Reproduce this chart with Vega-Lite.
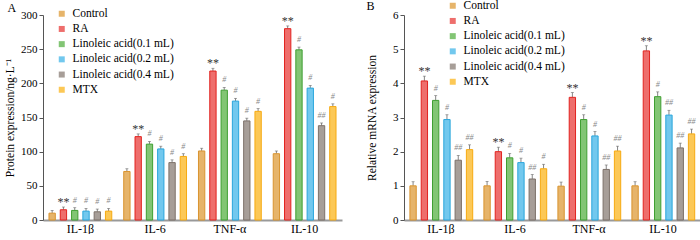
{
  "$schema": "https://vega.github.io/schema/vega-lite/v6.json",
  "padding": {"left": 4, "top": 0, "right": 2, "bottom": 0},
  "config": {
    "font": "Liberation Serif",
    "view": {"stroke": null},
    "axis": {"labelFont": "Liberation Serif", "titleFont": "Liberation Serif", "labelColor": "#000", "titleColor": "#000", "grid": false, "tickSize": 4, "domainColor": "#555", "tickColor": "#555", "labelFontSize": 11, "titleFontSize": 11.5, "titleFontWeight": "normal", "labelPadding": 2},
    "axisY": {"labelOverlap": false, "labelSeparation": 0},
    "title": {"font": "Liberation Serif"},
    "legend": {"labelFont": "Liberation Serif", "labelFontSize": 11.5, "labelColor": "#000"},
    "text": {"font": "Liberation Serif"}
  },
  "datasets": {
    "d": [
      {"panel": "A", "cat": "IL-1β", "grp": "Control", "v": 10, "hi": 14, "sig": ""},
      {"panel": "A", "cat": "IL-1β", "grp": "RA", "v": 15, "hi": 19, "sig": "**"},
      {"panel": "A", "cat": "IL-1β", "grp": "Linoleic acid(0.1 mL)", "v": 14, "hi": 18, "sig": "#"},
      {"panel": "A", "cat": "IL-1β", "grp": "Linoleic acid(0.2 mL)", "v": 13, "hi": 17, "sig": "#"},
      {"panel": "A", "cat": "IL-1β", "grp": "Linoleic acid(0.4 mL)", "v": 12, "hi": 16, "sig": "#"},
      {"panel": "A", "cat": "IL-1β", "grp": "MTX", "v": 13, "hi": 17, "sig": "#"},
      {"panel": "A", "cat": "IL-6", "grp": "Control", "v": 71, "hi": 75, "sig": ""},
      {"panel": "A", "cat": "IL-6", "grp": "RA", "v": 122, "hi": 126, "sig": "**"},
      {"panel": "A", "cat": "IL-6", "grp": "Linoleic acid(0.1 mL)", "v": 111, "hi": 115, "sig": "#"},
      {"panel": "A", "cat": "IL-6", "grp": "Linoleic acid(0.2 mL)", "v": 104, "hi": 108, "sig": "#"},
      {"panel": "A", "cat": "IL-6", "grp": "Linoleic acid(0.4 mL)", "v": 84, "hi": 88, "sig": "#"},
      {"panel": "A", "cat": "IL-6", "grp": "MTX", "v": 93, "hi": 97, "sig": "#"},
      {"panel": "A", "cat": "TNF-α", "grp": "Control", "v": 101, "hi": 105, "sig": ""},
      {"panel": "A", "cat": "TNF-α", "grp": "RA", "v": 218, "hi": 222, "sig": "**"},
      {"panel": "A", "cat": "TNF-α", "grp": "Linoleic acid(0.1 mL)", "v": 190, "hi": 194, "sig": "#"},
      {"panel": "A", "cat": "TNF-α", "grp": "Linoleic acid(0.2 mL)", "v": 174, "hi": 178, "sig": "#"},
      {"panel": "A", "cat": "TNF-α", "grp": "Linoleic acid(0.4 mL)", "v": 145, "hi": 149, "sig": "#"},
      {"panel": "A", "cat": "TNF-α", "grp": "MTX", "v": 159, "hi": 163, "sig": "#"},
      {"panel": "A", "cat": "IL-10", "grp": "Control", "v": 97, "hi": 101, "sig": ""},
      {"panel": "A", "cat": "IL-10", "grp": "RA", "v": 280, "hi": 284, "sig": "**"},
      {"panel": "A", "cat": "IL-10", "grp": "Linoleic acid(0.1 mL)", "v": 249, "hi": 253, "sig": "#"},
      {"panel": "A", "cat": "IL-10", "grp": "Linoleic acid(0.2 mL)", "v": 193, "hi": 197, "sig": "#"},
      {"panel": "A", "cat": "IL-10", "grp": "Linoleic acid(0.4 mL)", "v": 138, "hi": 142, "sig": "##"},
      {"panel": "A", "cat": "IL-10", "grp": "MTX", "v": 166, "hi": 170, "sig": "#"},
      {"panel": "B", "cat": "IL-1β", "grp": "Control", "v": 1.0, "hi": 1.12, "sig": ""},
      {"panel": "B", "cat": "IL-1β", "grp": "RA", "v": 4.07, "hi": 4.21, "sig": "**"},
      {"panel": "B", "cat": "IL-1β", "grp": "Linoleic acid(0.1 mL)", "v": 3.5, "hi": 3.64, "sig": "#"},
      {"panel": "B", "cat": "IL-1β", "grp": "Linoleic acid(0.2 mL)", "v": 2.94, "hi": 3.08, "sig": "#"},
      {"panel": "B", "cat": "IL-1β", "grp": "Linoleic acid(0.4 mL)", "v": 1.75, "hi": 1.89, "sig": "##"},
      {"panel": "B", "cat": "IL-1β", "grp": "MTX", "v": 2.06, "hi": 2.2, "sig": "##"},
      {"panel": "B", "cat": "IL-6", "grp": "Control", "v": 1.0, "hi": 1.13, "sig": ""},
      {"panel": "B", "cat": "IL-6", "grp": "RA", "v": 2.0, "hi": 2.13, "sig": "**"},
      {"panel": "B", "cat": "IL-6", "grp": "Linoleic acid(0.1 mL)", "v": 1.82, "hi": 1.95, "sig": "#"},
      {"panel": "B", "cat": "IL-6", "grp": "Linoleic acid(0.2 mL)", "v": 1.68, "hi": 1.81, "sig": "#"},
      {"panel": "B", "cat": "IL-6", "grp": "Linoleic acid(0.4 mL)", "v": 1.2, "hi": 1.33, "sig": "##"},
      {"panel": "B", "cat": "IL-6", "grp": "MTX", "v": 1.5, "hi": 1.63, "sig": "#"},
      {"panel": "B", "cat": "TNF-α", "grp": "Control", "v": 0.99, "hi": 1.11, "sig": ""},
      {"panel": "B", "cat": "TNF-α", "grp": "RA", "v": 3.59, "hi": 3.73, "sig": "**"},
      {"panel": "B", "cat": "TNF-α", "grp": "Linoleic acid(0.1 mL)", "v": 2.94, "hi": 3.08, "sig": "#"},
      {"panel": "B", "cat": "TNF-α", "grp": "Linoleic acid(0.2 mL)", "v": 2.46, "hi": 2.59, "sig": "#"},
      {"panel": "B", "cat": "TNF-α", "grp": "Linoleic acid(0.4 mL)", "v": 1.48, "hi": 1.61, "sig": "##"},
      {"panel": "B", "cat": "TNF-α", "grp": "MTX", "v": 2.02, "hi": 2.16, "sig": "##"},
      {"panel": "B", "cat": "IL-10", "grp": "Control", "v": 1.0, "hi": 1.12, "sig": ""},
      {"panel": "B", "cat": "IL-10", "grp": "RA", "v": 4.95, "hi": 5.1, "sig": "**"},
      {"panel": "B", "cat": "IL-10", "grp": "Linoleic acid(0.1 mL)", "v": 3.61, "hi": 3.75, "sig": "#"},
      {"panel": "B", "cat": "IL-10", "grp": "Linoleic acid(0.2 mL)", "v": 3.07, "hi": 3.21, "sig": "##"},
      {"panel": "B", "cat": "IL-10", "grp": "Linoleic acid(0.4 mL)", "v": 2.11, "hi": 2.25, "sig": "##"},
      {"panel": "B", "cat": "IL-10", "grp": "MTX", "v": 2.52, "hi": 2.66, "sig": "##"}
    ]
  },
  "spacing": 24,
  "resolve": {"scale": {"color": "independent", "stroke": "independent"}, "legend": {"color": "independent"}},
  "hconcat": [
    {
      "width": 299,
      "height": 205,
      "title": {"text": "A", "anchor": "start", "frame": "bounds", "fontSize": 12, "fontWeight": "normal", "offset": -7, "dx": 3},
      "data": {"name": "d"},
      "transform": [{"filter": "datum.panel == 'A'"}],
      "resolve": {"axis": {"y": "independent"}},
      "encoding": {
        "x": {"field": "cat", "type": "nominal", "sort": ["IL-1β", "IL-6", "TNF-α", "IL-10"], "scale": {"paddingInner": 0.16, "paddingOuter": 0.08}, "axis": {"title": null, "ticks": false, "domainColor": "#999", "domainWidth": 2, "labelAngle": 0, "labelFontSize": 12, "labelPadding": 3}},
        "xOffset": {"field": "grp", "type": "nominal", "sort": ["Control", "RA", "Linoleic acid(0.1 mL)", "Linoleic acid(0.2 mL)", "Linoleic acid(0.4 mL)", "MTX"], "scale": {"paddingInner": 0.44, "paddingOuter": 0}}
      },
      "layer": [
        {
          "mark": {"type": "rule", "color": "#666", "strokeWidth": 0.8},
          "encoding": {"y": {"field": "v", "type": "quantitative", "scale": {"domain": [0, 300], "nice": false}, "title": "Protein expression/ng·L⁻¹", "axis": {"values": [0, 50, 100, 150, 200, 250, 300], "tickCount": 7, "format": "d", "labelOverlap": false, "titlePadding": 5}}, "y2": {"field": "hi"}}
        },
        {
          "mark": {"type": "tick", "orient": "horizontal", "size": 3, "thickness": 0.8, "color": "#666"},
          "encoding": {"y": {"field": "hi", "type": "quantitative", "axis": null}}
        },
        {
          "mark": {"type": "bar", "strokeWidth": 1},
          "encoding": {
            "y": {"field": "v", "type": "quantitative", "scale": {"domain": [0, 300], "nice": false}, "axis": null},
            "color": {"field": "grp", "type": "nominal", "sort": ["Control", "RA", "Linoleic acid(0.1 mL)", "Linoleic acid(0.2 mL)", "Linoleic acid(0.4 mL)", "MTX"], "scale": {"domain": ["Control", "RA", "Linoleic acid(0.1 mL)", "Linoleic acid(0.2 mL)", "Linoleic acid(0.4 mL)", "MTX"], "range": ["#e6b46a", "#ee6e6c", "#82c574", "#72c8ee", "#a79e98", "#fcc856"]}, "legend": {"orient": "none", "legendX": 13, "legendY": -7, "title": null, "symbolType": "square", "symbolSize": 36, "labelFont": "Liberation Serif", "labelFontSize": 11.5, "labelColor": "#000", "rowPadding": 2.2, "labelOffset": 5, "symbolStrokeWidth": 0}},
            "stroke": {"field": "grp", "type": "nominal", "scale": {"domain": ["Control", "RA", "Linoleic acid(0.1 mL)", "Linoleic acid(0.2 mL)", "Linoleic acid(0.4 mL)", "MTX"], "range": ["#d9942f", "#e2231f", "#3f9f32", "#2aa6dc", "#7d7169", "#f6aa12"]}, "legend": null}
          }
        },
        {
          "transform": [{"filter": "datum.sig == '**'"}],
          "mark": {"type": "text", "baseline": "alphabetic", "dy": -1, "fontSize": 12, "color": "#333", "font": "Liberation Serif"},
          "encoding": {"y": {"field": "hi", "type": "quantitative", "axis": null}, "text": {"field": "sig"}}
        },
        {
          "transform": [{"filter": "datum.sig == '#' || datum.sig == '##'"}],
          "mark": {"type": "text", "baseline": "alphabetic", "dy": -5, "fontSize": 8, "fontStyle": "italic", "color": "#888", "font": "Liberation Serif"},
          "encoding": {"y": {"field": "hi", "type": "quantitative", "axis": null}, "text": {"field": "sig"}}
        }
      ]
    },
    {
      "width": 296,
      "height": 205,
      "title": {"text": "B", "anchor": "start", "frame": "bounds", "fontSize": 12, "fontWeight": "normal", "offset": -13, "dx": 0},
      "data": {"name": "d"},
      "transform": [{"filter": "datum.panel == 'B'"}],
      "resolve": {"axis": {"y": "independent"}},
      "encoding": {
        "x": {"field": "cat", "type": "nominal", "sort": ["IL-1β", "IL-6", "TNF-α", "IL-10"], "scale": {"paddingInner": 0.16, "paddingOuter": 0.08}, "axis": {"title": null, "ticks": false, "domainColor": "#999", "domainWidth": 2, "labelAngle": 0, "labelFontSize": 12, "labelPadding": 3}},
        "xOffset": {"field": "grp", "type": "nominal", "sort": ["Control", "RA", "Linoleic acid(0.1 mL)", "Linoleic acid(0.2 mL)", "Linoleic acid(0.4 mL)", "MTX"], "scale": {"paddingInner": 0.44, "paddingOuter": 0}}
      },
      "layer": [
        {
          "mark": {"type": "rule", "color": "#666", "strokeWidth": 0.8},
          "encoding": {"y": {"field": "v", "type": "quantitative", "scale": {"domain": [0, 6], "nice": false}, "title": "Relative mRNA expression", "axis": {"values": [0, 1, 2, 3, 4, 5, 6], "tickCount": 7, "format": "d", "labelOverlap": false, "titlePadding": 15}}, "y2": {"field": "hi"}}
        },
        {
          "mark": {"type": "tick", "orient": "horizontal", "size": 3, "thickness": 0.8, "color": "#666"},
          "encoding": {"y": {"field": "hi", "type": "quantitative", "axis": null}}
        },
        {
          "mark": {"type": "bar", "strokeWidth": 1},
          "encoding": {
            "y": {"field": "v", "type": "quantitative", "scale": {"domain": [0, 6], "nice": false}, "axis": null},
            "color": {"field": "grp", "type": "nominal", "sort": ["Control", "RA", "Linoleic acid(0.1 mL)", "Linoleic acid(0.2 mL)", "Linoleic acid(0.4 mL)", "MTX"], "scale": {"domain": ["Control", "RA", "Linoleic acid(0.1 mL)", "Linoleic acid(0.2 mL)", "Linoleic acid(0.4 mL)", "MTX"], "range": ["#e6b46a", "#ee6e6c", "#82c574", "#72c8ee", "#a79e98", "#fcc856"]}, "legend": {"orient": "none", "legendX": 43, "legendY": -15, "title": null, "symbolType": "square", "symbolSize": 36, "labelFont": "Liberation Serif", "labelFontSize": 11.5, "labelColor": "#000", "rowPadding": 2.2, "labelOffset": 5, "symbolStrokeWidth": 0}},
            "stroke": {"field": "grp", "type": "nominal", "scale": {"domain": ["Control", "RA", "Linoleic acid(0.1 mL)", "Linoleic acid(0.2 mL)", "Linoleic acid(0.4 mL)", "MTX"], "range": ["#d9942f", "#e2231f", "#3f9f32", "#2aa6dc", "#7d7169", "#f6aa12"]}, "legend": null}
          }
        },
        {
          "transform": [{"filter": "datum.sig == '**'"}],
          "mark": {"type": "text", "baseline": "alphabetic", "dy": -1, "fontSize": 12, "color": "#333", "font": "Liberation Serif"},
          "encoding": {"y": {"field": "hi", "type": "quantitative", "axis": null}, "text": {"field": "sig"}}
        },
        {
          "transform": [{"filter": "datum.sig == '#' || datum.sig == '##'"}],
          "mark": {"type": "text", "baseline": "alphabetic", "dy": -5, "fontSize": 8, "fontStyle": "italic", "color": "#888", "font": "Liberation Serif"},
          "encoding": {"y": {"field": "hi", "type": "quantitative", "axis": null}, "text": {"field": "sig"}}
        }
      ]
    }
  ]
}
